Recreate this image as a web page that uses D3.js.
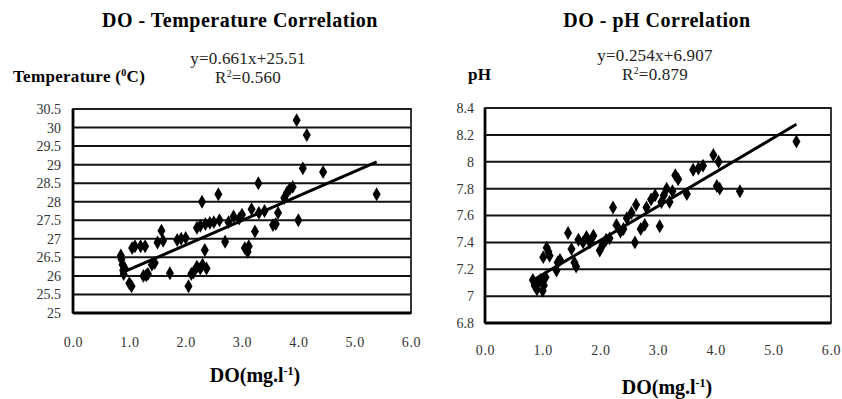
<!DOCTYPE html>
<html>
<head>
<meta charset="utf-8">
<script src="https://cdn.jsdelivr.net/npm/d3@7"></script>
<style>
  body { margin: 0; background: #fff; }
  text { font-family: "Liberation Serif", "Times New Roman", serif; }
</style>
</head>
<body>
<script>
// DO (mg/l) vs temperature
const tempDO = [0.85,0.86,0.88,0.89,0.9,0.92,1.0,1.04,1.05,1.1,1.2,1.28,1.25,1.3,1.33,1.4,1.45,
  1.5,1.57,1.6,1.72,1.85,1.92,2.0,2.05,2.1,2.14,2.2,2.26,2.3,2.37,2.29,2.34,2.2,2.26,2.35,2.43,2.5,
  2.58,2.6,2.7,2.76,2.85,2.95,3.0,3.05,3.1,3.12,3.17,3.23,3.29,3.3,3.4,3.55,3.6,3.64,3.75,3.8,3.85,
  3.9,3.97,4.0,4.08,4.15,4.44,5.39];
const tempVal = [26.55,26.45,26.3,26.15,26.05,26.2,25.8,25.72,26.75,26.8,26.8,26.8,26.0,26.02,26.05,26.3,26.35,
  26.9,27.22,26.95,26.07,26.97,27.0,27.02,25.72,26.05,26.1,26.25,26.2,26.3,26.2,28.0,26.7,27.3,27.35,27.4,27.43,27.45,
  28.2,27.5,26.92,27.45,27.6,27.55,27.65,26.75,26.65,26.8,27.8,27.2,28.5,27.7,27.75,27.37,27.4,27.7,28.1,28.25,28.35,
  28.4,30.2,27.5,28.9,29.8,28.8,28.2];

// DO (mg/l) vs pH
const phDO = [0.83,0.86,0.9,0.92,0.96,1.0,1.02,1.05,1.01,1.07,1.1,1.12,1.24,1.26,1.3,1.44,1.5,1.55,1.58,1.62,
  1.7,1.76,1.82,1.88,1.99,2.04,2.1,2.16,2.22,2.28,2.35,2.4,2.46,2.54,2.6,2.62,2.7,2.77,2.8,2.88,2.95,3.03,
  3.06,3.1,3.15,3.2,3.25,3.3,3.35,3.5,3.61,3.7,3.78,3.96,4.05,4.02,4.07,4.42,5.4];
const phVal = [7.12,7.08,7.05,7.1,7.12,7.04,7.08,7.14,7.29,7.36,7.33,7.3,7.19,7.25,7.27,7.47,7.35,7.25,7.22,7.42,
  7.4,7.44,7.4,7.45,7.34,7.38,7.42,7.43,7.66,7.53,7.48,7.5,7.58,7.62,7.4,7.68,7.5,7.53,7.66,7.72,7.75,7.52,
  7.7,7.75,7.8,7.7,7.78,7.9,7.87,7.76,7.94,7.95,7.97,8.05,8.0,7.82,7.8,7.78,8.15];

const xTicks = [0, 1, 2, 3, 4, 5, 6];
const tempTicks = [25, 25.5, 26, 26.5, 27, 27.5, 28, 28.5, 29, 29.5, 30, 30.5];
const phTicks = [6.8, 7, 7.2, 7.4, 7.6, 7.8, 8, 8.2, 8.4];

const tempFit = {slope: 0.661, icept: 25.51, eq: "y=0.661x+25.51", r2: "0.560"};
const phFit = {slope: 0.254, icept: 6.907, eq: "y=0.254x+6.907", r2: "0.879"};

const svg = d3.select("body").append("svg")
  .attr("width", 842)
  .attr("height", 399);

function drawPanel(cfg) {
  const x = d3.scaleLinear().domain([0, 6]).range([cfg.left, cfg.right]);
  const y = d3.scaleLinear().domain([cfg.yTicks[0], cfg.yTicks[cfg.yTicks.length - 1]]).range([cfg.bottom, cfg.top]);
  const g = svg.append("g");

  // horizontal grid
  g.selectAll(".grid").data(cfg.yTicks).enter().append("line")
    .attr("x1", cfg.left).attr("x2", cfg.right)
    .attr("y1", d => y(d)).attr("y2", d => y(d))
    .attr("stroke", "#111").attr("stroke-width", 2);

  // frame
  g.append("rect")
    .attr("x", cfg.left).attr("y", cfg.top)
    .attr("width", cfg.right - cfg.left).attr("height", cfg.bottom - cfg.top)
    .attr("fill", "none").attr("stroke", "#222").attr("stroke-width", 1.8);
  g.append("line")
    .attr("x1", cfg.left).attr("x2", cfg.left)
    .attr("y1", cfg.top).attr("y2", cfg.bottom)
    .attr("stroke", "#000").attr("stroke-width", 2.8);
  g.append("line")
    .attr("x1", cfg.left).attr("x2", cfg.right)
    .attr("y1", cfg.bottom).attr("y2", cfg.bottom)
    .attr("stroke", "#000").attr("stroke-width", 2.8);

  // axes (labels only)
  const yAxis = d3.axisLeft(y).tickValues(cfg.yTicks).tickSize(0).tickPadding(0)
    .tickFormat(d => String(+d.toFixed(1)));
  g.append("g")
    .attr("transform", "translate(" + cfg.yLabelX + ",0)")
    .call(yAxis)
    .attr("font-family", "Liberation Serif")
    .call(a => a.select(".domain").remove())
    .selectAll("text")
    .style("font-size", "14px").attr("fill", "#333");

  const xAxis = d3.axisBottom(x).tickValues(xTicks).tickSize(0).tickPadding(0)
    .tickFormat(d3.format(".1f"));
  g.append("g")
    .attr("transform", "translate(0," + cfg.xLabelY + ")")
    .call(xAxis)
    .attr("font-family", "Liberation Serif")
    .call(a => a.select(".domain").remove())
    .selectAll("text")
    .attr("dy", 0)
    .style("font-size", "14px").style("letter-spacing", "0.6px").attr("fill", "#333");

  // points
  const pts = cfg.xs.map((v, i) => [v, cfg.ys[i]]);
  g.selectAll(".pt").data(pts).enter().append("path")
    .attr("d", d3.symbol().type(d3.symbolDiamond).size(56))
    .attr("transform", d => "translate(" + x(d[0]) + "," + y(d[1]) + ")")
    .attr("fill", "#000");

  // trend line
  const x0 = d3.min(cfg.xs), x1 = d3.max(cfg.xs);
  g.append("line")
    .attr("x1", x(x0)).attr("y1", y(cfg.fit.slope * x0 + cfg.fit.icept))
    .attr("x2", x(x1)).attr("y2", y(cfg.fit.slope * x1 + cfg.fit.icept))
    .attr("stroke", "#000").attr("stroke-width", 3);

  // title
  g.append("text")
    .attr("x", cfg.titleX).attr("y", 27)
    .attr("text-anchor", "middle")
    .style("font-weight", "bold").style("font-size", "20px").style("letter-spacing", "0.5px")
    .text(cfg.title);

  // equation
  g.append("text")
    .attr("x", cfg.eqX).attr("y", cfg.eqY)
    .attr("text-anchor", "middle")
    .style("font-size", "17px").style("letter-spacing", "0.2px").attr("fill", "#222")
    .text(cfg.fit.eq);
  const r = g.append("text")
    .attr("x", cfg.eqX).attr("y", cfg.eqY + 19)
    .attr("text-anchor", "middle")
    .style("font-size", "17px").style("letter-spacing", "0.2px").attr("fill", "#222");
  r.append("tspan").text("R");
  r.append("tspan").attr("dy", -6).style("font-size", "10px").text("2");
  r.append("tspan").attr("dy", 6).text("=" + cfg.fit.r2);

  // y title
  const yt = g.append("text")
    .attr("x", cfg.yTitleX).attr("y", cfg.yTitleY)
    .style("font-weight", "bold").style("font-size", "17px").style("letter-spacing", "0.3px");
  cfg.yTitle(yt);

  // x title
  const xt = g.append("text")
    .attr("x", cfg.xTitleX).attr("y", cfg.xTitleY)
    .attr("text-anchor", "middle")
    .style("font-weight", "bold").style("font-size", "20px");
  xt.append("tspan").text("DO(mg.l");
  xt.append("tspan").attr("dy", -7).style("font-size", "12px").text("-1");
  xt.append("tspan").attr("dy", 7).text(")");
}

drawPanel({
  left: 73, right: 411, top: 109, bottom: 313,
  yTicks: tempTicks, xs: tempDO, ys: tempVal, fit: tempFit,
  yLabelX: 61, xLabelY: 347,
  title: "DO - Temperature Correlation", titleX: 240,
  eqX: 248, eqY: 64,
  yTitleX: 13, yTitleY: 82,
  yTitle: t => {
    t.append("tspan").text("Temperature (");
    t.append("tspan").attr("dy", -6).style("font-size", "10px").text("0");
    t.append("tspan").attr("dy", 6).text("C)");
  },
  xTitleX: 255, xTitleY: 382
});

drawPanel({
  left: 485, right: 831, top: 108, bottom: 323,
  yTicks: phTicks, xs: phDO, ys: phVal, fit: phFit,
  yLabelX: 474, xLabelY: 355,
  title: "DO - pH Correlation", titleX: 657,
  eqX: 655, eqY: 61,
  yTitleX: 468, yTitleY: 80,
  yTitle: t => t.text("pH"),
  xTitleX: 667, xTitleY: 394
});
</script>
</body>
</html>
